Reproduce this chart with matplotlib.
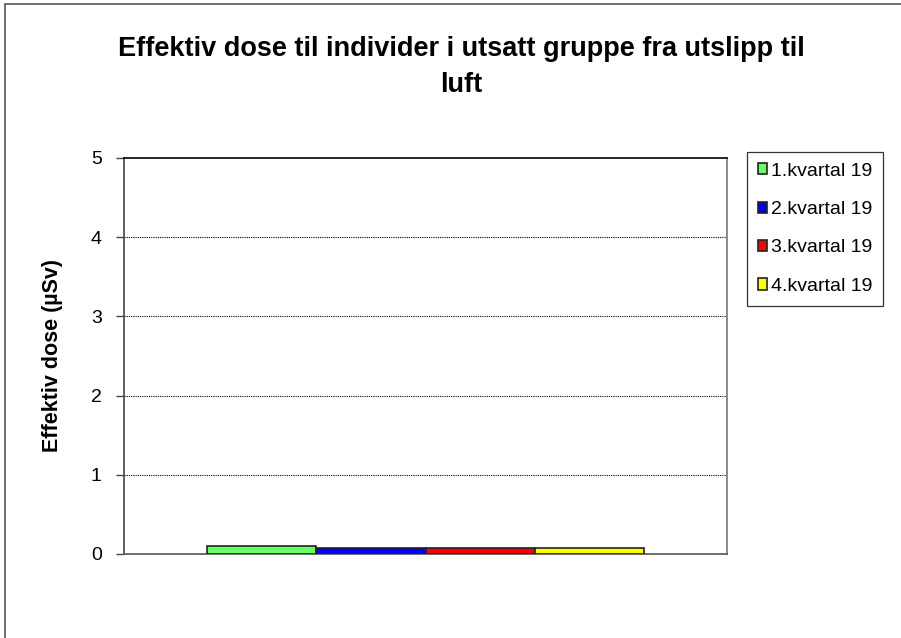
import matplotlib
matplotlib.use("Agg")
import matplotlib.pyplot as plt
from matplotlib.patches import Rectangle
import numpy as np

plt.rcParams['font.family'] = ['Liberation Sans', 'DejaVu Sans']

series = ["1.kvartal 19", "2.kvartal 19", "3.kvartal 19", "4.kvartal 19"]
values = [0.10, 0.07, 0.07, 0.07]
colors = ["#66ff66", "#0000ff", "#ff0000", "#ffff00"]
yticks = [0, 1, 2, 3, 4, 5]
title = "Effektiv dose til individer i utsatt gruppe fra utslipp til\nluft"
ylabel = "Effektiv dose (µSv)"

fig = plt.figure(figsize=(9.01, 6.38), dpi=100)
fig.patches.append(Rectangle((5/901, -0.1), 1.2, 0.1 + 1 - 4.5/638, transform=fig.transFigure,
                             fill=False, edgecolor="#555555", linewidth=1.2, zorder=0))

ax = fig.add_axes([124/901, 1 - 554/638, 603/901, 396/638])
width = 0.181
n = len(series)
for i, (s, v, c) in enumerate(zip(series, values, colors)):
    x = (i - (n - 1) / 2) * width
    ax.bar(x, v, width=width, color=c, edgecolor="#222222", linewidth=1.2, label=s, zorder=3)

ax.set_xlim(-0.5, 0.5)
ax.set_ylim(0, 5)
ax.set_yticks(yticks)
ax.set_yticklabels([str(t) for t in yticks], fontsize=14)
ax.set_xticks([])
ax.tick_params(axis='y', direction='out', length=6, width=1, color="#444444", pad=10)
for y in yticks[1:-1]:
    ax.axhline(y, color="black", linestyle=(0, (1, 1)), linewidth=0.8, zorder=1)
ax.spines['top'].set_color("black")
ax.spines['left'].set_color("#444444")
ax.spines['right'].set_color("#777777")
ax.spines['bottom'].set_color("#555555")
for sp in ax.spines.values():
    sp.set_linewidth(1.2)

ax.set_ylabel(ylabel, fontsize=15.5, fontweight='bold')
ax.yaxis.set_label_coords(-0.101, 0.5)
fig.text(461/901, 1 - 67/638, title, ha='center', va='center', fontsize=19.5, fontweight='bold',
         linespacing=1.55)

leg = ax.legend(loc='upper left', bbox_to_anchor=(747/901, 1 - 152/638),
                bbox_transform=fig.transFigure, frameon=True, fancybox=False,
                edgecolor="black", fontsize=14, handlelength=0.5, handleheight=0.5,
                handletextpad=0.2, labelspacing=1.1, borderpad=0.55, borderaxespad=0)
leg.get_frame().set_linewidth(0.9)

fig.savefig("out.png", dpi=100)
